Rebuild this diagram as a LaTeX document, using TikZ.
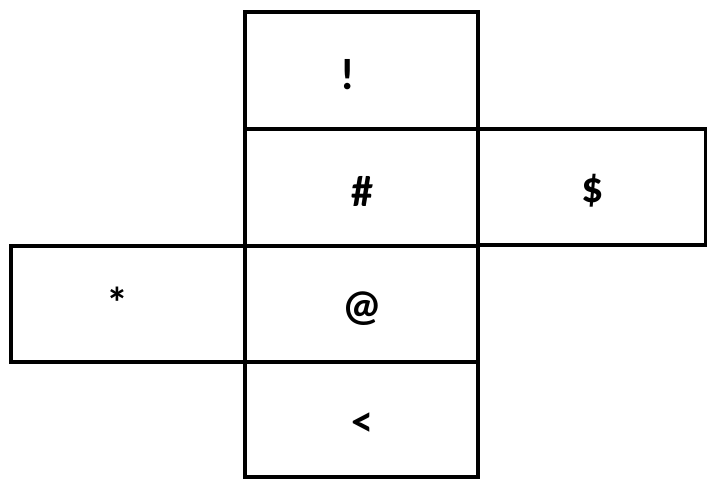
\documentclass[tikz,border=0pt]{standalone}
\usepackage{fontspec}
\setmainfont{Carlito}
\begin{document}
\begin{tikzpicture}[x=1pt,y=-1pt,
  face/.style={draw=black,line width=3.6pt,minimum width=0pt,inner sep=0pt},
  lbl/.style={font=\bfseries\fontsize{44}{44}\selectfont,inner sep=0pt}]
\useasboundingbox[fill=white] (0,0) rectangle (707,481);
% faces
\draw[face] (245,12) rectangle (478,129);
\draw[face] (245,129) rectangle (478,246);
\draw[face] (478,129) rectangle (706,245);
\draw[face] (11,246) rectangle (245,362);
\draw[face] (245,246) rectangle (478,362);
\draw[face] (245,362) rectangle (478,477);
% labels
\node[lbl] (t1) at (348,75) {!};
\node[lbl] (t2) at (362,191) {\#};
\node[lbl] (t3) at (593,191) {\$};
\node[lbl] (t4) at (117,303) {*};
\node[lbl] (t5) at (362,309) {@};
\node[lbl] (t6) at (362,425) {<};
\end{tikzpicture}
\end{document}
